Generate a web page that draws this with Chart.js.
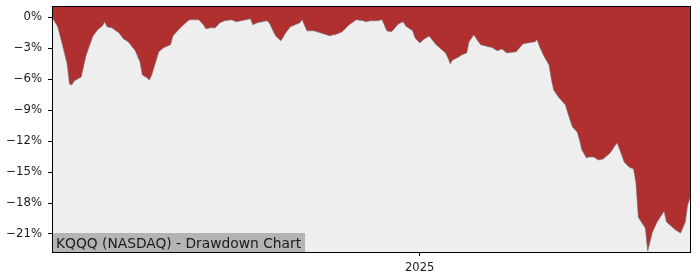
<!DOCTYPE html>
<html>
<head>
<meta charset="utf-8">
<script src="https://cdn.jsdelivr.net/npm/chart.js@4.4.1/dist/chart.umd.min.js"></script>
<style>
    html, body { margin: 0; padding: 0; background: #ffffff; }
    #wrap { width: 700px; height: 280px; }
</style>
</head>
<body>
<div id="wrap"><canvas id="drawdown-chart" width="700" height="280"></canvas></div>
<script>
// drawdown series
const dates = [
    '2024-07-29', '2024-07-31', '2024-08-02', '2024-08-04', '2024-08-05', '2024-08-06', '2024-08-07', '2024-08-10',
    '2024-08-12', '2024-08-15', '2024-08-17', '2024-08-19', '2024-08-20', '2024-08-21', '2024-08-23', '2024-08-26',
    '2024-08-28', '2024-08-30', '2024-09-02', '2024-09-04', '2024-09-05', '2024-09-07', '2024-09-08', '2024-09-09',
    '2024-09-12', '2024-09-14', '2024-09-17', '2024-09-18', '2024-09-20', '2024-09-22', '2024-09-24', '2024-09-25',
    '2024-09-29', '2024-10-01', '2024-10-02', '2024-10-04', '2024-10-06', '2024-10-08', '2024-10-10', '2024-10-13',
    '2024-10-15', '2024-10-17', '2024-10-21', '2024-10-22', '2024-10-24', '2024-10-28', '2024-10-29', '2024-10-31',
    '2024-11-01', '2024-11-03', '2024-11-05', '2024-11-07', '2024-11-09', '2024-11-11', '2024-11-12', '2024-11-14',
    '2024-11-17', '2024-11-21', '2024-11-24', '2024-11-25', '2024-11-26', '2024-11-29', '2024-12-02', '2024-12-05',
    '2024-12-08', '2024-12-09', '2024-12-11', '2024-12-14', '2024-12-16', '2024-12-18', '2024-12-20', '2024-12-23',
    '2024-12-25', '2024-12-26', '2024-12-29', '2024-12-30', '2025-01-01', '2025-01-03', '2025-01-05', '2025-01-08',
    '2025-01-12', '2025-01-13', '2025-01-14', '2025-01-15', '2025-01-17', '2025-01-19', '2025-01-21', '2025-01-22',
    '2025-01-24', '2025-01-26', '2025-01-27', '2025-01-29', '2025-02-01', '2025-02-03', '2025-02-05', '2025-02-07',
    '2025-02-11', '2025-02-14', '2025-02-16', '2025-02-19', '2025-02-20', '2025-02-21', '2025-02-23', '2025-02-25',
    '2025-02-26', '2025-02-27', '2025-03-01', '2025-03-04', '2025-03-05', '2025-03-06', '2025-03-07', '2025-03-09',
    '2025-03-10', '2025-03-11', '2025-03-13', '2025-03-14', '2025-03-16', '2025-03-18', '2025-03-20', '2025-03-23',
    '2025-03-25', '2025-03-26', '2025-03-27', '2025-03-29', '2025-03-31', '2025-04-02', '2025-04-03', '2025-04-04',
    '2025-04-07', '2025-04-08', '2025-04-10', '2025-04-12', '2025-04-15', '2025-04-16', '2025-04-20', '2025-04-22',
    '2025-04-24', '2025-04-25', '2025-04-26'
];
const drawdown = [
    -0.15, -0.92, -2.67, -4.51, -6.46, -6.55, -6.17, -5.78,
    -3.74, -1.80, -1.21, -0.83, -0.44, -0.92, -1.02, -1.50,
    -2.09, -2.38, -3.25, -4.32, -5.58, -5.87, -6.07, -5.58,
    -3.35, -2.96, -2.67, -1.80, -1.31, -0.83, -0.44, -0.24,
    -0.24, -0.73, -1.12, -1.02, -1.02, -0.53, -0.34, -0.24,
    -0.44, -0.34, -0.15, -0.73, -0.53, -0.34, -0.53, -1.50,
    -1.89, -2.28, -1.50, -0.92, -0.73, -0.53, -0.24, -1.31,
    -1.31, -1.60, -1.80, -1.70, -1.70, -1.41, -0.73, -0.24,
    -0.34, -0.44, -0.34, -0.34, -0.24, -1.31, -1.41, -0.63,
    -0.44, -0.83, -1.31, -1.99, -2.48, -2.09, -1.80, -2.67,
    -3.45, -3.93, -4.51, -4.13, -3.93, -3.64, -3.45, -2.38,
    -1.70, -2.38, -2.67, -2.77, -2.96, -3.25, -3.06, -3.45,
    -3.35, -2.57, -2.48, -2.38, -2.18, -2.86, -3.83, -4.61,
    -5.97, -7.04, -7.72, -8.50, -9.27, -9.95, -10.63, -11.12,
    -11.89, -12.86, -13.64, -13.54, -13.54, -13.83, -13.74, -13.16,
    -12.48, -12.18, -12.77, -14.03, -14.51, -14.71, -16.07, -19.37,
    -20.44, -22.67, -20.83, -19.85, -18.79, -19.85, -20.63, -20.92,
    -19.85, -18.20, -17.52
];
const yTicks = [0, -3, -6, -9, -12, -15, -18, -21];
const xTickDates = ['2025-01-01'];
const xTickLabels = ['2025'];
const chartLabel = 'KQQQ (NASDAQ) - Drawdown Chart';

const FONT = 'DejaVu Sans';
const fillRed = '#b02f2f';

let points = dates.map(function (d, i) {
    return { x: Date.parse(d), y: drawdown[i] };
});

// plot background, box border and the label in the corner
let framePlugin = {
    id: 'frame',
    beforeDraw: function (chart) {
        let a = chart.chartArea;
        let ctx = chart.ctx;
        ctx.save();
        ctx.fillStyle = '#eeeeee';
        ctx.fillRect(a.left, a.top, a.right - a.left, a.bottom - a.top);
        ctx.restore();
    },
    afterDatasetsDraw: function (chart) {
        let a = chart.chartArea;
        let ctx = chart.ctx;
        ctx.save();
        ctx.font = '13.8px "' + FONT + '"';
        let w = ctx.measureText(chartLabel).width;
        ctx.fillStyle = '#b4b4b4';
        ctx.fillRect(a.left, a.bottom - 19, w + 7, 19);
        ctx.fillStyle = '#1a1a1a';
        ctx.textBaseline = 'alphabetic';
        ctx.fillText(chartLabel, a.left + 3, a.bottom - 4.5);
        ctx.restore();
    },
    afterDraw: function (chart) {
        let a = chart.chartArea;
        let ctx = chart.ctx;
        ctx.save();
        ctx.strokeStyle = '#000000';
        ctx.lineWidth = 1;
        ctx.strokeRect(Math.round(a.left) - 0.5, Math.round(a.top) - 0.5,
            Math.round(a.right - a.left) + 1, Math.round(a.bottom - a.top) + 1);
        ctx.restore();
    }
};

let ctx1 = document.getElementById('drawdown-chart').getContext('2d');
let chart = new Chart(ctx1, {
    type: 'line',
    data: {
        datasets: [{
            data: points,
            fill: 'end',
            backgroundColor: fillRed,
            borderColor: 'rgba(110,115,125,0.55)',
            borderWidth: 1,
            pointRadius: 0,
            tension: 0
        }]
    },
    options: {
        responsive: false,
        animation: false,
        events: [],
        layout: { padding: { top: 7, right: 10, left: 0, bottom: 0 } },
        plugins: {
            legend: { display: false },
            tooltip: { enabled: false }
        },
        scales: {
            x: {
                type: 'linear',
                min: points[0].x,
                max: points[points.length - 1].x,
                afterBuildTicks: function (axis) {
                    axis.ticks = xTickDates.map(function (d) { return { value: Date.parse(d) }; });
                },
                afterFit: function (axis) {
                    axis.height = 28;
                    axis.paddingLeft = 0;
                    axis.paddingRight = 0;
                },
                grid: { display: true, drawOnChartArea: false, tickLength: 4, color: '#000000' },
                border: { display: false },
                ticks: {
                    color: '#1a1a1a',
                    font: { family: FONT, size: 11.5 },
                    padding: 5,
                    maxRotation: 0,
                    callback: function (value) {
                        let i = xTickDates.map(Date.parse).indexOf(value);
                        return i >= 0 ? xTickLabels[i] : '';
                    }
                }
            },
            y: {
                min: -22.75,
                max: 1,
                afterBuildTicks: function (axis) {
                    axis.ticks = yTicks.map(function (v) { return { value: v }; });
                },
                afterFit: function (axis) {
                    axis.width = 53;
                    axis.paddingTop = 0;
                    axis.paddingBottom = 0;
                },
                grid: { display: true, drawOnChartArea: false, tickLength: 5, color: '#000000' },
                border: { display: false },
                ticks: {
                    color: '#1a1a1a',
                    font: { family: FONT, size: 11.7 },
                    padding: 6,
                    callback: function (value) {
                        return (value < 0 ? '\u2212' + Math.abs(value) : value) + '%';
                    }
                }
            }
        }
    },
    plugins: [framePlugin]
});
</script>
</body>
</html>
